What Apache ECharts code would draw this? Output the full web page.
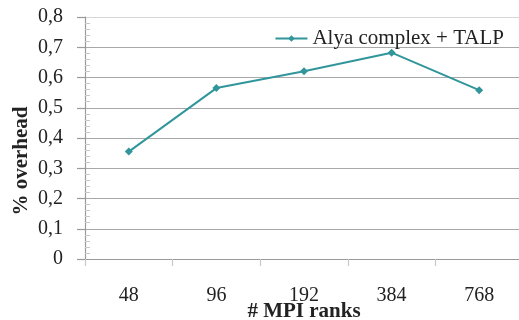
<!DOCTYPE html>
<html>
<head>
<meta charset="utf-8">
<script src="https://cdn.jsdelivr.net/npm/echarts@6/dist/echarts.min.js"></script>
<style>
html,body{margin:0;padding:0;background:#fff;}
#chart{width:519px;height:320px;}
</style>
</head>
<body>
<div id="chart"></div>
<script>
// MPI rank counts and measured overhead
const ranks = ['48', '96', '192', '384', '768'];
const overhead = [0.355, 0.565, 0.621, 0.682, 0.558];
const seriesName = 'Alya complex + TALP';
const yTicks = [0, 0.1, 0.2, 0.3, 0.4, 0.5, 0.6, 0.7, 0.8];

const serif = 'Liberation Serif';
const teal = '#31969B';

// grid lines: the top border is drawn lighter than the inner lines
const splitColors = yTicks.map((v, i) => i === yTicks.length - 1 ? '#d6d6d6' : '#a8a8a8');

const chart = echarts.init(document.getElementById('chart'), null, {renderer: 'canvas'});
chart.setOption({
  animation: false,
  backgroundColor: '#fff',
  grid: {left: 85, right: -4, top: 17, bottom: 61, containLabel: false, outerBoundsMode: 'none'},
  legend: {
    show: true,
    data: [seriesName],
    right: 10, top: 23,
    itemWidth: 32, itemHeight: 8, itemGap: 2,
    textStyle: {fontFamily: serif, fontSize: 21, color: '#222'}
  },
  xAxis: {
    type: 'category',
    data: ranks,
    boundaryGap: true,
    name: '# MPI ranks',
    nameLocation: 'middle',
    nameMoveOverlap: false,
    nameGap: 42,
    nameTextStyle: {fontFamily: serif, fontSize: 21, fontWeight: 'bold', color: '#222'},
    axisLine: {lineStyle: {color: '#9a9a9a', width: 1.2}},
    axisTick: {show: true, length: 7, lineStyle: {color: '#c8c8c8', width: 1.2}},
    axisLabel: {fontFamily: serif, fontSize: 20, color: '#222', margin: 27}
  },
  yAxis: {
    type: 'value',
    min: yTicks[0], max: yTicks[yTicks.length - 1], interval: 0.1,
    name: '% overhead',
    nameLocation: 'middle',
    nameMoveOverlap: false,
    nameGap: 53,
    nameRotate: 90,
    nameTextStyle: {fontFamily: serif, fontSize: 21, fontWeight: 'bold', color: '#222', padding: [0, 0, 0, -46]},
    axisLine: {show: true, lineStyle: {color: '#9a9a9a', width: 1.2}},
    axisTick: {show: true, length: 8, lineStyle: {color: '#9a9a9a', width: 1.2}},
    minorTick: {show: true, splitNumber: 5, length: -5, lineStyle: {color: '#c8c8c8', width: 1}},
    splitLine: {show: true, lineStyle: {color: splitColors, width: 1.2}},
    axisLabel: {
      fontFamily: serif, fontSize: 20, color: '#222', margin: 22,
      formatter: v => String(Math.round(v * 10) / 10).replace('.', ',')
    }
  },
  series: [{
    name: seriesName,
    type: 'line',
    data: overhead,
    symbol: 'diamond',
    symbolSize: 8,
    lineStyle: {color: teal, width: 2},
    itemStyle: {color: teal}
  }]
});
</script>
</body>
</html>
